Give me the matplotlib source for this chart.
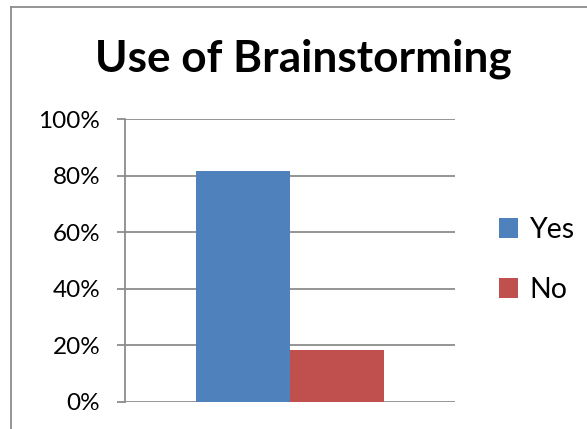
import matplotlib
matplotlib.use("Agg")
import matplotlib.pyplot as plt
from matplotlib.lines import Line2D
from matplotlib.patches import Patch

title = "Use of Brainstorming"
series = ["Yes", "No"]
values = [81.6, 18.4]
colors = ["#4F81BD", "#C0504D"]
yticks = [0, 20, 40, 60, 80, 100]
ytick_labels = ["0%", "20%", "40%", "60%", "80%", "100%"]

W, H = 587, 429
fig = plt.figure(figsize=(W / 100, H / 100), dpi=100)
fig.patch.set_facecolor("white")

font = "Lato"

# chart border (left and top edges visible)
fig.add_artist(Line2D([11 / W, 11 / W], [0, 1 - 7 / H], transform=fig.transFigure,
                      color="#8c8c8c", lw=1.3))
fig.add_artist(Line2D([11 / W, 1], [1 - 7 / H, 1 - 7 / H], transform=fig.transFigure,
                      color="#8c8c8c", lw=1.3))

ax = fig.add_axes([125 / W, (H - 402) / H, 330 / W, 283 / H])

# one category, two series side by side (gap width 150%)
bw = 1 / 3.5
offsets = [-bw / 2, bw / 2]
for s, v, c, off in zip(series, values, colors, offsets):
    ax.bar(off, v, width=bw, color=c, label=s, zorder=3)

ax.set_xlim(-0.5, 0.5)
ax.set_ylim(0, 100)
ax.set_yticks(yticks)
ax.set_yticklabels(ytick_labels, fontfamily=font, fontsize=17.5)
ax.set_xticks([])
ax.yaxis.grid(True, color="#8c8c8c", lw=1.3, zorder=1)
for side in ["top", "right", "bottom"]:
    ax.spines[side].set_visible(False)
ax.spines["left"].set_color("#8c8c8c")
ax.spines["left"].set_linewidth(1.3)
ax.tick_params(axis="y", length=5.8, width=1.3, color="#8c8c8c", pad=12, labelcolor="black")

fig.text(303 / W, 1 - 59 / H, title, ha="center", va="center",
         fontfamily=font, fontweight="bold", fontsize=31.8)

handles = [Patch(facecolor=c, edgecolor="none") for c in colors]
fig.legend(handles, series, loc="center left", bbox_to_anchor=(499 / W, 1 - 260 / H),
           frameon=False, prop={"family": font, "size": 20.5},
           borderpad=0, borderaxespad=0,
           handlelength=0.68, handleheight=0.68, handletextpad=0.4, labelspacing=1.2)

fig.savefig("out.png", dpi=100)
